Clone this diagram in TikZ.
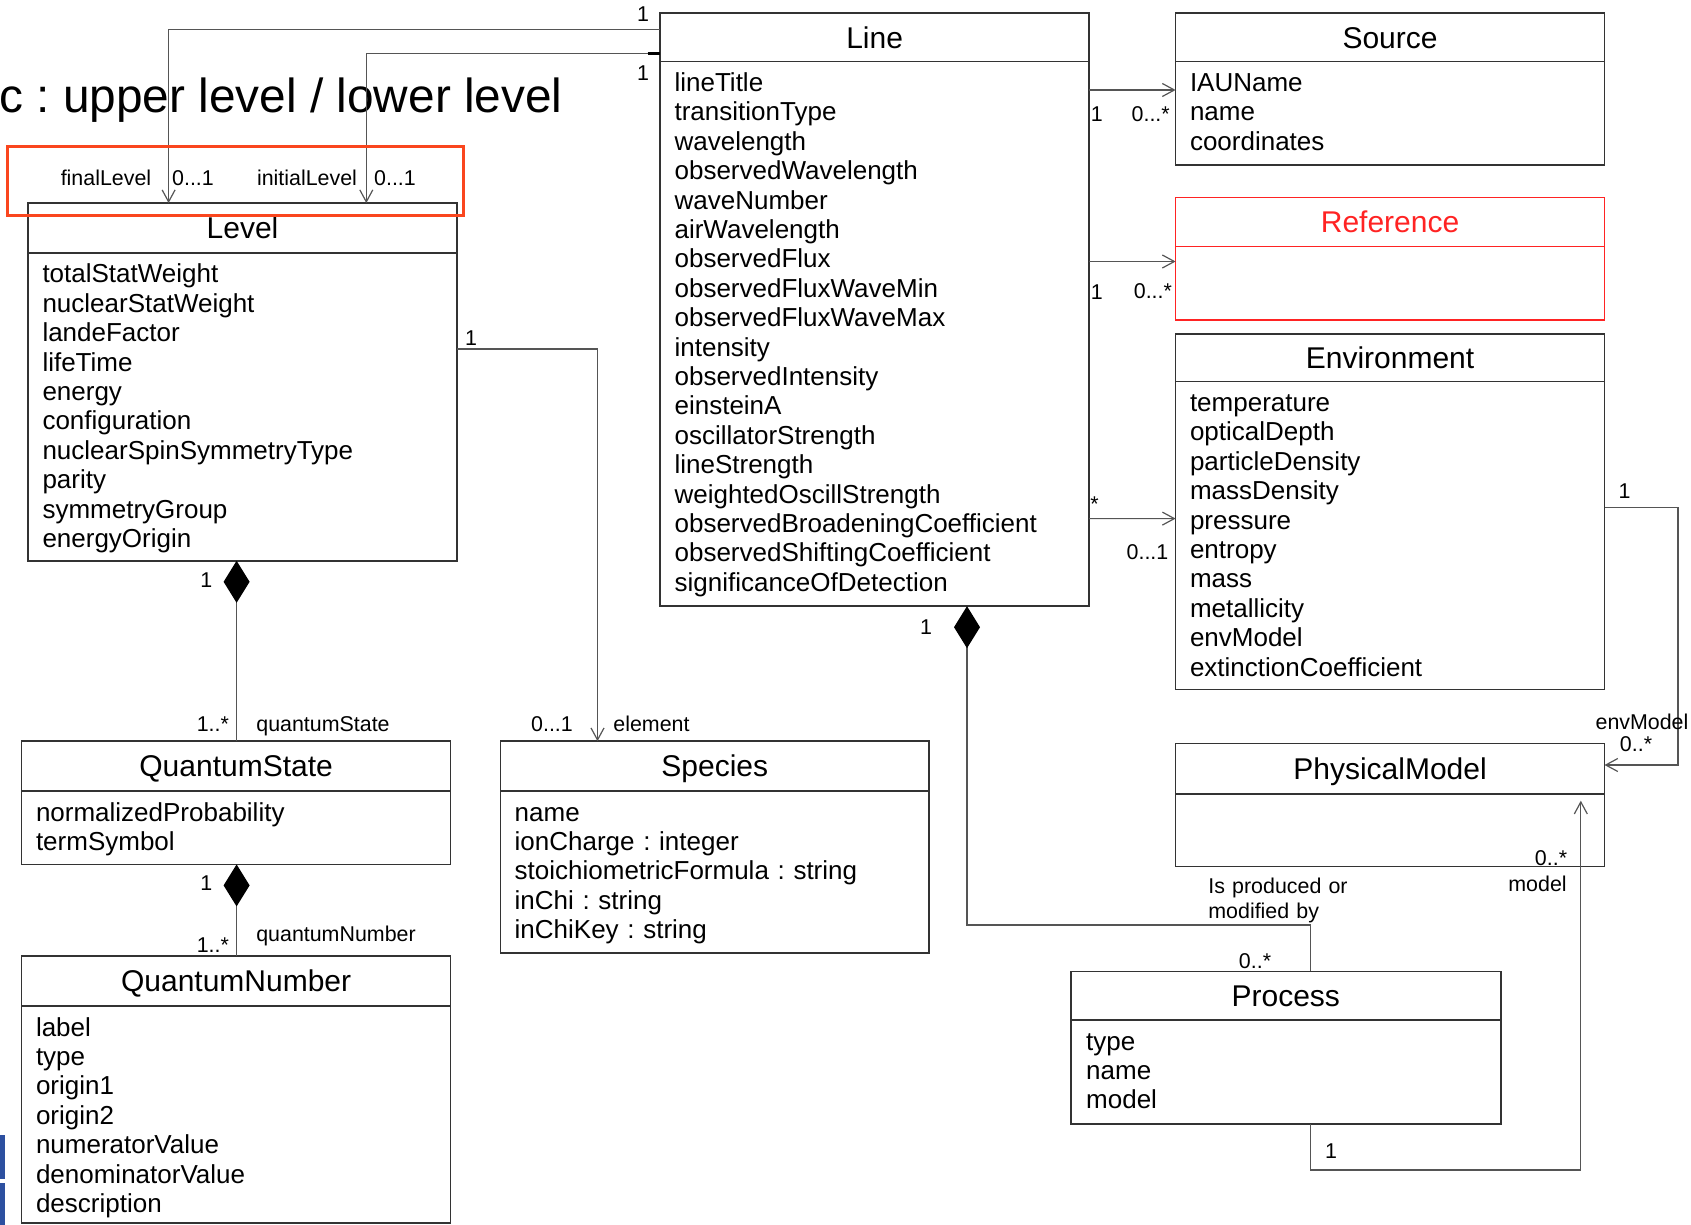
\documentclass[tikz,border=0pt]{standalone}
\usepackage{fontspec}
\setmainfont{Liberation Sans}
\frenchspacing
\usetikzlibrary{arrows.meta,calc,fit}
\definecolor{boxline}{RGB}{51,51,51}
\definecolor{linkline}{RGB}{85,85,85}
\definecolor{refred}{RGB}{255,35,35}
\definecolor{markred}{RGB}{250,70,30}
\definecolor{slideblue}{RGB}{45,80,160}
\tikzset{classbox/.style={draw=boxline,line width=0.8pt,inner sep=0pt,outer sep=0pt},
  classtitle/.style={font=\fontsize{15}{18}\selectfont,text height=10.8pt,text depth=0pt,inner sep=0pt},
  classattr/.style={font=\fontsize{13}{14.7}\selectfont,anchor=base west,text width=200pt,align=left,inner sep=0pt},
  lbl/.style={font=\fontsize{10.7}{12.5}\selectfont,text height=7.7pt,text depth=0pt,inner sep=0pt},
  link/.style={draw=linkline,line width=0.6pt},
  assoc/.style={link,-{Straight Barb[length=6pt,width=6.5pt]}},
  compose/.style={link,{Diamond[length=21pt,width=13pt,color=black]}-}}

\begin{document}
\begin{tikzpicture}[x=0.5pt,y=-0.5pt]
\useasboundingbox (0,0) rectangle (1691,1225);
\fill[slideblue] (0,1135) rectangle (5,1179);
\fill[slideblue] (0,1183) rectangle (5,1225);
\node[anchor=base west,inner sep=0pt,font=\fontsize{23.9}{28}\selectfont] (caption) at (-1,113) {c : upper level / lower level};

\node[classbox,fit={(28.1,203.1) (457,560.8)}] (level) {};
\draw[classbox] ($(level.north west)+(0,49.7)$) -- ($(level.north east)+(0,49.7)$);
\node[classtitle] (level-title) at ($(level.north)+(0,24.9)$) {Level};
\node[classattr] (level-attr) at ($(level.north west)+(14,79.7)$) {totalStatWeight\\nuclearStatWeight\\landeFactor\\lifeTime\\energy\\configuration\\nuclearSpinSymmetryType\\parity\\symmetryGroup\\energyOrigin};

\node[classbox,fit={(21.6,741.2) (450.6,864.4)}] (qstate) {};
\draw[classbox] ($(qstate.north west)+(0,49.8)$) -- ($(qstate.north east)+(0,49.8)$);
\node[classtitle] (qstate-title) at ($(qstate.north)+(0,24.9)$) {QuantumState};
\node[classattr] (qstate-attr) at ($(qstate.north west)+(14,79.8)$) {normalizedProbability\\termSymbol};

\node[classbox,fit={(21.6,956.2) (450.6,1223)}] (qnumber) {};
\draw[classbox] ($(qnumber.north west)+(0,49.8)$) -- ($(qnumber.north east)+(0,49.8)$);
\node[classtitle] (qnumber-title) at ($(qnumber.north)+(0,24.9)$) {QuantumNumber};
\node[classattr] (qnumber-attr) at ($(qnumber.north west)+(14,79.8)$) {label\\type\\origin1\\origin2\\numeratorValue\\denominatorValue\\description};

\node[classbox,fit={(500.3,741.2) (929.2,953)}] (species) {};
\draw[classbox] ($(species.north west)+(0,49.8)$) -- ($(species.north east)+(0,49.8)$);
\node[classtitle] (species-title) at ($(species.north)+(0,24.9)$) {Species};
\node[classattr] (species-attr) at ($(species.north west)+(14,79.8)$) {name\\ionCharge : integer\\stoichiometricFormula : string\\inChi : string\\inChiKey : string};

\node[classbox,fit={(660.2,13) (1089.1,606.2)}] (line) {};
\draw[classbox] ($(line.north west)+(0,48.6)$) -- ($(line.north east)+(0,48.6)$);
\node[classtitle] (line-title) at ($(line.north)+(0,24.3)$) {Line};
\node[classattr] (line-attr) at ($(line.north west)+(14,78.6)$) {lineTitle\\transitionType\\wavelength\\observedWavelength\\waveNumber\\airWavelength\\observedFlux\\observedFluxWaveMin\\observedFluxWaveMax\\intensity\\observedIntensity\\einsteinA\\oscillatorStrength\\lineStrength\\weightedOscillStrength\\observedBroadeningCoefficient\\observedShiftingCoefficient\\significanceOfDetection};

\node[classbox,fit={(1175.6,13) (1604.5,165.3)}] (source) {};
\draw[classbox] ($(source.north west)+(0,48.6)$) -- ($(source.north east)+(0,48.6)$);
\node[classtitle] (source-title) at ($(source.north)+(0,24.3)$) {Source};
\node[classattr] (source-attr) at ($(source.north west)+(14,78.6)$) {IAUName\\name\\coordinates};

\node[classbox,draw=refred,fit={(1175.6,197.7) (1604.5,319.8)}] (reference) {};
\draw[classbox,draw=refred] ($(reference.north west)+(0,48.7)$) -- ($(reference.north east)+(0,48.7)$);
\node[classtitle,text=refred] (reference-title) at ($(reference.north)+(0,24.3)$) {Reference};

\node[classbox,fit={(1175.6,333.9) (1604.5,689.4)}] (environment) {};
\draw[classbox] ($(environment.north west)+(0,47.5)$) -- ($(environment.north east)+(0,47.5)$);
\node[classtitle] (environment-title) at ($(environment.north)+(0,23.7)$) {Environment};
\node[classattr] (environment-attr) at ($(environment.north west)+(14,77.5)$) {temperature\\opticalDepth\\particleDensity\\massDensity\\pressure\\entropy\\mass\\metallicity\\envModel\\extinctionCoefficient};

\node[classbox,fit={(1175.6,743.4) (1604.5,866.6)}] (physmodel) {};
\draw[classbox] ($(physmodel.north west)+(0,50.8)$) -- ($(physmodel.north east)+(0,50.8)$);
\node[classtitle] (physmodel-title) at ($(physmodel.north)+(0,25.4)$) {PhysicalModel};

\node[classbox,fit={(1070.8,971.4) (1500.8,1123.7)}] (process) {};
\draw[classbox] ($(process.north west)+(0,48.6)$) -- ($(process.north east)+(0,48.6)$);
\node[classtitle] (process-title) at ($(process.north)+(0,24.3)$) {Process};
\node[classattr] (process-attr) at ($(process.north west)+(15,78.6)$) {type\\name\\model};

\draw[assoc] ($(line.north west)+(0,16.3)$) -| ($(level.north west)+(140.5,0)$);
\draw[assoc] ($(line.north west)+(0,40.3)$) -| ($(level.north west)+(338.2,0)$);
\draw[line width=1.3pt] ($(line.north west)+(-12.5,40.3)$) -- ($(line.north west)+(0,40.3)$);
\draw[assoc] ($(level.north east)+(0,145.9)$) -| ($(species.north west)+(97.2,0)$);
\draw[compose] ($(level.south west)+(208.5,0)$) -- ($(qstate.north west)+(215,0)$);
\draw[compose] ($(qstate.south west)+(215,0)$) -- ($(qnumber.north west)+(215,0)$);
\draw[assoc] ($(line.north east)+(0,77)$) -- ($(source.north west)+(0,77)$);
\draw[assoc] ($(line.north east)+(0,248.5)$) -- ($(reference.north west)+(0,63.8)$);
\draw[assoc] ($(line.north east)+(0,505.6)$) -- ($(environment.north west)+(0,184.7)$);
\draw[assoc] ($(environment.north east)+(0,173.9)$) -- ++(73.5,0) |- ($(physmodel.north east)+(0,21.6)$);
\draw[compose] ($(line.south west)+(306.8,0)$) -- ++(0,318.8) -| ($(process.north west)+(239.8,0)$);
\draw[assoc] ($(process.south west)+(239.8,0)$) -- ++(0,46.3) -| ($(physmodel.south west)+(405.2,-65.9)$);

\node[lbl] (final-one) at (643,13.5) {1};
\node[lbl] (initial-one) at (643,73) {1};
\node[lbl] (final-role) at (106,178.3) {finalLevel};
\node[lbl] (final-mult) at (193,178.3) {0...1};
\node[lbl] (initial-role) at (307,178.3) {initialLevel};
\node[lbl] (initial-mult) at (395,178.3) {0...1};
\node[lbl] (element-one) at (471,338) {1};
\node[lbl] (element-mult) at (552,724) {0...1};
\node[lbl] (element-role) at (651.5,724) {element};
\node[lbl] (qstate-one) at (206.4,580) {1};
\node[lbl] (qstate-mult) at (212.9,724) {1..*};
\node[lbl] (qstate-role) at (323,724) {quantumState};
\node[lbl] (qnumber-one) at (206.4,882.8) {1};
\node[lbl] (qnumber-mult) at (212.9,944.4) {1..*};
\node[lbl] (qnumber-role) at (336,933.6) {quantumNumber};
\node[lbl] (source-one) at (1096.7,113.5) {1};
\node[lbl] (source-mult) at (1150.7,113.5) {0...*};
\node[lbl] (reference-one) at (1096.7,291.7) {1};
\node[lbl] (reference-mult) at (1152.9,290.7) {0...*};
\node[lbl] (environment-many) at (1094.5,504) {*};
\node[lbl] (environment-mult) at (1147.5,552) {0...1};
\node[lbl] (envmodel-one) at (1624.5,490.5) {1};
\node[lbl] (envmodel-role) at (1642,721.8) {envModel};
\node[lbl] (envmodel-mult) at (1636,744) {0..*};
\node[lbl] (process-one) at (926,626.7) {1};
\node[font=\fontsize{10.7}{12.5}\selectfont,anchor=base west,text width=80pt,align=left,inner sep=0pt] (process-role) at (1208,893.7) {Is produced or\\modified by};
\node[lbl] (process-mult) at (1255,960.5) {0..*};
\node[lbl] (model-one) at (1331,1151) {1};
\node[lbl] (model-mult) at (1551,858) {0..*};
\node[lbl] (model-role) at (1537.5,883.5) {model};

\draw[draw=markred,line width=1.5pt] (7.6,146.7) rectangle (463.5,216);
\end{tikzpicture}
\end{document}
